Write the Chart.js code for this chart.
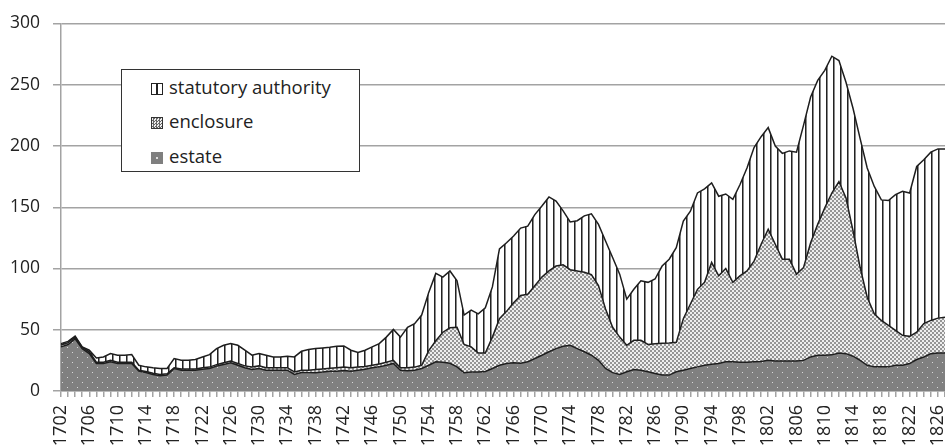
<!DOCTYPE html>
<html>
<head>
<meta charset="utf-8">
<script src="https://cdn.jsdelivr.net/npm/chart.js@4.4.1/dist/chart.umd.min.js"></script>
<style>
  html, body { margin: 0; padding: 0; background: #fff; }
  #wrap { position: relative; width: 945px; height: 448px; overflow: hidden; }
  #chart { position: absolute; left: 0; top: 0; }
  #legend {
    position: absolute; left: 121px; top: 69px; width: 237px; height: 101px;
    border: 1.5px solid #333; background: #fff;
    font-family: "Open Sans", sans-serif; font-size: 18.5px; color: #222;
  }
  #legend .item { position: absolute; left: 29px; height: 24px; line-height: 24px; white-space: nowrap; }
  #legend .sw { display: inline-block; width: 12px; height: 12px; box-sizing: border-box; vertical-align: -1px; margin-right: 6px; }
  .sw-stat { border: 1.5px solid #222; background: linear-gradient(to right, transparent 40%, #222 40%, #222 62%, transparent 62%), #fff; }
  .sw-encl { border: 1px solid #333; background: repeating-conic-gradient(#666 0 25%, #eee 0 50%) 0 0 / 3px 3px; }
  .sw-est  { background: radial-gradient(circle at 50% 50%, #ddd 0 1px, #7f7f7f 1.5px); }
</style>
</head>
<body>
<div id="wrap">
  <canvas id="chart" width="945" height="448"></canvas>
  <div id="legend"></div>
</div>
<script>
// ---------------------------------------------------------------------------
// Data: one value per year, 1702-1827 (stacked: estate, enclosure, statutory)
// ---------------------------------------------------------------------------
const years = Array.from({ length: 126 }, (_, i) => String(1702 + i));

const labelledYears = [
  1702, 1706, 1710, 1714, 1718, 1722, 1726, 1730, 1734, 1738, 1742, 1746,
  1750, 1754, 1758, 1762, 1766, 1770, 1774, 1778, 1782, 1786, 1790, 1794,
  1798, 1802, 1806, 1810, 1814, 1818, 1822, 1826
];

const estate = [
  36, 37.9, 42.7, 34.6, 30.6, 22.4, 22.4, 23.8, 22.4, 22.4,
  22.4, 16.2, 15.1, 13.5, 12.4, 13, 18.4, 17, 17, 17,
  17.8, 18.4, 20.3, 21.6, 23, 21, 19, 17.6, 18.4, 17,
  17, 17, 17, 13.5, 15.1, 15, 15, 15.5, 16.2, 16.2,
  16.7, 16.2, 17, 17.8, 19, 19.7, 21, 22.5, 17, 16.5,
  17, 18.4, 21, 23.8, 23.5, 22.6, 19.7, 14.9, 15.5, 15.5,
  16, 18.4, 21, 22.5, 23, 22.6, 23.8, 26.5, 29.2, 32,
  34.6, 36.5, 37.3, 34.6, 32, 29.2, 25, 18.4, 15, 13.5,
  15.7, 17.6, 17, 15.7, 14.3, 13, 13, 15.7, 17, 18.4,
  19.7, 21, 21.9, 22.4, 23.8, 23.8, 23.5, 23.5, 23.8, 24,
  25, 24.4, 24.4, 24.4, 24.4, 25, 27.8, 29.2, 29.2, 29.5,
  31, 30.5, 28.4, 25, 21, 19.7, 19.7, 19.7, 21, 21,
  22.4, 25.7, 27.8, 30.5, 31, 31
];

const enclosure = [
  1.5, 1.6, 1.3, 0.9, 1.4, 1.1, 1.1, 1.2, 1.1, 1.1,
  1.1, 0.8, 0.9, 1.0, 1.1, 1.0, 0.6, 1.0, 1.0, 1.0,
  1.2, 1.1, 1.2, 1.4, 1.5, 1.5, 1.5, 1.9, 2.1, 2.0,
  2.0, 2.0, 2.0, 2.0, 1.9, 2.0, 2.5, 2.5, 2.3, 2.8,
  2.8, 2.8, 2.5, 2.2, 2.0, 2.3, 2.5, 2.5, 2.0, 2.5,
  2.5, 2.6, 12, 17.2, 24.5, 29, 32.3, 23.1, 20.5, 15.5,
  15, 25.6, 38, 42.5, 49, 55.4, 55.2, 59.5, 63.8, 66,
  67.4, 66.5, 61.7, 63.4, 65, 65.8, 61, 48.6, 37, 30.5,
  21.6, 23.8, 24.4, 22.3, 24.2, 26, 26.2, 24, 42, 52.6,
  63.3, 67.7, 83.1, 71.6, 76.2, 64.9, 70.5, 74.5, 82.2, 95.8,
  107, 95.4, 83.2, 83.2, 71, 75.8, 93.2, 106.8, 120.3, 132.1,
  140, 127.1, 102.2, 75.8, 55.5, 43.3, 37.9, 33.8, 28.5, 24.4,
  22.2, 22.3, 27.2, 27.1, 28.5, 29.3
];

const statutory = [
  1.2, 1.0, 0.8, 0.5, 1.3, 3.5, 4.3, 5.6, 5.7, 5.7,
  6.2, 4.0, 3.7, 4.4, 4.9, 4.4, 7.5, 7.1, 7.1, 7.7,
  8.8, 10.2, 13.1, 14.3, 14.2, 14.8, 12.8, 9.7, 10.1, 10.2,
  8.8, 8.8, 9.4, 12.3, 15.4, 16.8, 17.1, 17.2, 17.2, 17.5,
  17.3, 14.3, 11.9, 13.3, 15.0, 16.7, 20.5, 25.3, 25.0, 33.0,
  35.5, 41.0, 47.5, 55.0, 45.0, 46.4, 38.0, 24.0, 30.0, 32.0,
  37.0, 41.0, 57.0, 56.0, 54.5, 55.0, 55.6, 58.0, 58.0, 60.4,
  53.0, 44.0, 39.0, 41.0, 46.0, 49.6, 50.0, 55.5, 57.0, 51.4,
  37.7, 41.6, 48.6, 50.7, 52.9, 63.0, 68.4, 77.3, 79.7, 75.8,
  78.7, 76.3, 64.8, 65.0, 60.8, 67.8, 74.4, 84.0, 92.7, 87.8,
  83.0, 80.2, 86.4, 88.4, 99.6, 116.2, 119.0, 117.6, 112.2, 111.7,
  98.8, 94.4, 100.0, 105.2, 105.5, 104.0, 98.4, 102.0, 110.8, 117.6,
  117.0, 135.3, 133.7, 137.4, 138.1, 137.3
];

// ---------------------------------------------------------------------------
// Fill patterns (dots on grey, checker, vertical hatching)
// ---------------------------------------------------------------------------
function makePattern(w, h, draw) {
  const c = document.createElement('canvas');
  c.width = w; c.height = h;
  draw(c.getContext('2d'));
  return document.getElementById('chart').getContext('2d').createPattern(c, 'repeat');
}

const dotsPattern = makePattern(10, 10, (g) => {
  g.fillStyle = '#808080'; g.fillRect(0, 0, 10, 10);
  g.fillStyle = '#d8d8d8';
  g.fillRect(2, 2, 1, 1);
  g.fillRect(7, 7, 1, 1);
});

const checkerPattern = makePattern(4, 4, (g) => {
  g.fillStyle = '#eeeeee'; g.fillRect(0, 0, 4, 4);
  g.fillStyle = '#959595';
  g.fillRect(0, 0, 2, 2);
  g.fillRect(2, 2, 2, 2);
});

const stripePattern = makePattern(7, 4, (g) => {
  g.fillStyle = '#ffffff'; g.fillRect(0, 0, 7, 4);
  g.fillStyle = '#222'; g.fillRect(0, 0, 1, 4);
  g.fillStyle = '#888'; g.fillRect(1, 0, 1, 4);
});

// ---------------------------------------------------------------------------
// Chart
// ---------------------------------------------------------------------------
const GRID = '#a3a3a3';

const datasets = [
  { label: 'estate', data: estate, backgroundColor: dotsPattern, fill: 'origin', swatch: 'sw-est' },
  { label: 'enclosure', data: enclosure, backgroundColor: checkerPattern, fill: '-1', swatch: 'sw-encl' },
  { label: 'statutory authority', data: statutory, backgroundColor: stripePattern, fill: '-1', swatch: 'sw-stat' },
].map(d => Object.assign({
  borderColor: '#1e1e1e', borderWidth: 1.5, pointRadius: 0, tension: 0,
}, d));

const chart = new Chart(document.getElementById('chart'), {
  type: 'line',
  data: { labels: years, datasets: datasets },
  options: {
    responsive: false,
    animation: false,
    devicePixelRatio: 1,
    layout: { padding: { top: 21, right: 0, left: 0, bottom: 0 } },
    plugins: { legend: { display: false }, tooltip: { enabled: false } },
    scales: {
      x: {
        offset: false,
        grid: { drawOnChartArea: false, color: GRID, lineWidth: 1.5, tickLength: 6, offset: false },
        border: { color: GRID, width: 1.5 },
        ticks: {
          autoSkip: false, minRotation: 90, maxRotation: 90, padding: 8,
          color: '#222', font: { family: '"Open Sans", sans-serif', size: 18 },
          callback: (v, i) => labelledYears.includes(Number(years[i])) ? years[i] : '',
        },
        afterFit: (s) => { s.height = 57; s.paddingRight = 0; s.paddingLeft = 0; },
      },
      y: {
        stacked: true, min: 0, max: 300,
        grid: { color: GRID, lineWidth: 1.5, tickLength: 8 },
        border: { color: GRID, width: 1.5 },
        ticks: { stepSize: 50, padding: 13, color: '#222', font: { family: '"Open Sans", sans-serif', size: 17.5 } },
        afterFit: (s) => { s.width = 61; },
      },
    },
  },
});

// Legend (top entry = top of the stack)
const legend = document.getElementById('legend');
const rows = [17, 51, 86];
datasets.slice().reverse().forEach((d, i) => {
  const item = document.createElement('div');
  item.className = 'item';
  item.style.top = (rows[i] - 12) + 'px';
  item.innerHTML = '<span class="sw ' + d.swatch + '"></span>' + d.label;
  legend.appendChild(item);
});
</script>
</body>
</html>
